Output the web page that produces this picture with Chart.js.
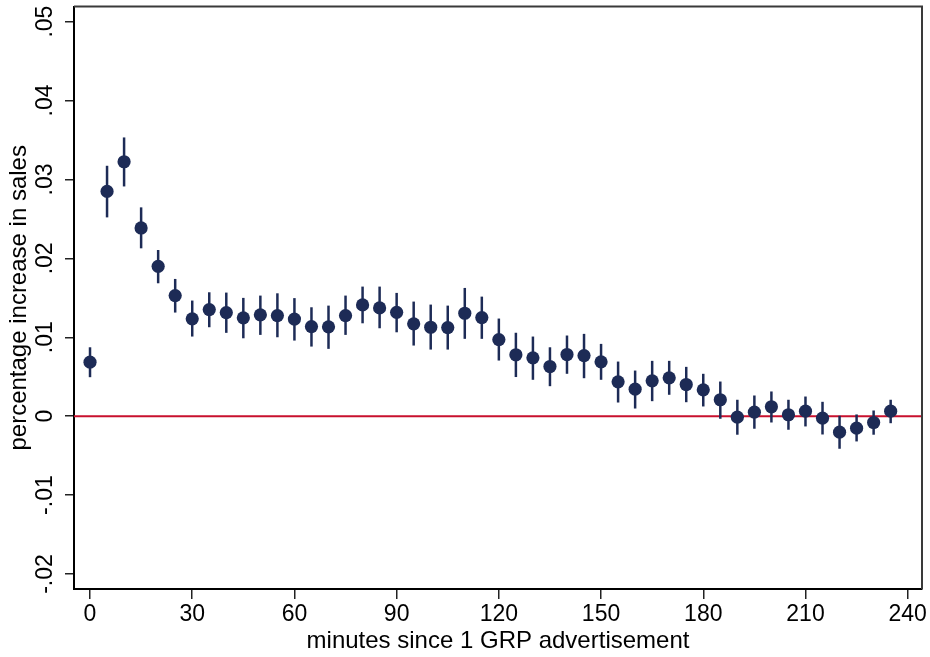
<!DOCTYPE html>
<html>
<head>
    <title>Sales response</title>
    <style>
        body { margin: 0; background: #fff; }
        #chart { width: 930px; height: 657px; }
    </style>
</head>
<body>
    <div id="chart">
        <canvas id="myChart" width="930" height="657"></canvas>
    </div>
<script src="https://cdn.jsdelivr.net/npm/chart.js@4/dist/chart.umd.min.js"></script>
<script>
    // minutes after the spot aired
    const minutes = [0, 5, 10, 15, 20, 25, 30, 35, 40, 45, 50, 55,
        60, 65, 70, 75, 80, 85, 90, 95, 100, 105, 110, 115,
        120, 125, 130, 135, 140, 145, 150, 155, 160, 165, 170, 175,
        180, 185, 190, 195, 200, 205, 210, 215, 220, 225, 230, 235]

    // point estimates
    const estimate = [0.00684, 0.02848, 0.03224, 0.02385, 0.01899, 0.01528, 0.01233, 0.01351, 0.01313, 0.01246, 0.01284, 0.01275,
        0.0123, 0.01135, 0.01132, 0.01275, 0.0141, 0.01372, 0.01316, 0.0117, 0.01127, 0.01123, 0.01304, 0.01249,
        0.00971, 0.00778, 0.00739, 0.00629, 0.00781, 0.00768, 0.00689, 0.00435, 0.00342, 0.00448, 0.00486, 0.00401,
        0.00334, 0.00208, -0.00013, 0.00051, 0.00119, 0.00018, 0.00063, -0.00025, -0.00203, -0.00152, -0.0008, 0.00063]

    // confidence interval, upper end
    const ciHigh = [0.00873, 0.03173, 0.03532, 0.02646, 0.02106, 0.01739, 0.01465, 0.0157, 0.01566, 0.01499, 0.01528, 0.01557,
        0.01496, 0.0138, 0.01401, 0.01528, 0.01642, 0.01642, 0.01562, 0.01452, 0.01414, 0.01401, 0.01625, 0.01515,
        0.01237, 0.01057, 0.01009, 0.00873, 0.01022, 0.01043, 0.00916, 0.00692, 0.00578, 0.00701, 0.00701, 0.00625,
        0.00537, 0.00439, 0.00208, 0.00262, 0.00313, 0.00208, 0.00249, 0.00182, 0.00005, 0.00022, 0.00072, 0.00208]

    // confidence interval, lower end
    const ciLow = [0.00494, 0.02519, 0.02911, 0.02127, 0.01684, 0.01313, 0.01009, 0.01127, 0.01056, 0.00987, 0.0103, 0.01,
        0.00958, 0.00882, 0.00853, 0.0103, 0.01177, 0.01114, 0.01063, 0.00895, 0.00844, 0.00844, 0.0098, 0.0098,
        0.00705, 0.00496, 0.00461, 0.0038, 0.00537, 0.00481, 0.00461, 0.00173, 0.00097, 0.0019, 0.00271, 0.00177,
        0.00123, -0.00033, -0.00235, -0.00159, -0.0008, -0.00172, -0.0013, -0.00232, -0.00413, -0.0032, -0.00235, -0.00089]

    const xTicks = [0, 30, 60, 90, 120, 150, 180, 210, 240]
    const yTicks = [-0.02, -0.01, 0, 0.01, 0.02, 0.03, 0.04, 0.05]
    const yTickLabels = ["-.02", "-.01", "0", ".01", ".02", ".03", ".04", ".05"]

    const navy = "#1d2b56";
    const red = "#c8102e";

    let points = []
    for (let i = 0; i < minutes.length; i++) {
        points.push({ x: minutes[i], y: estimate[i] })
    }

    // zero line and interval whiskers go under the markers
    const whiskers = {
        id: 'whiskers',
        beforeDatasetsDraw(chart) {
            const c = chart.ctx;
            const x = chart.scales.x;
            const y = chart.scales.y;
            const area = chart.chartArea;
            c.save();
            c.strokeStyle = red;
            c.lineWidth = 2;
            c.beginPath();
            c.moveTo(area.left, y.getPixelForValue(0));
            c.lineTo(area.right, y.getPixelForValue(0));
            c.stroke();

            c.strokeStyle = navy;
            c.lineWidth = 2.5;
            for (let i = 0; i < minutes.length; i++) {
                const px = x.getPixelForValue(minutes[i]);
                c.beginPath();
                c.moveTo(px, y.getPixelForValue(ciHigh[i]));
                c.lineTo(px, y.getPixelForValue(ciLow[i]));
                c.stroke();
            }
            c.restore();
        },
        afterDraw(chart) {
            // top and right edges of the plot box
            const c = chart.ctx;
            const area = chart.chartArea;
            c.save();
            c.strokeStyle = "#3a3a3a";
            c.lineWidth = 2;
            c.beginPath();
            c.moveTo(area.left, area.top);
            c.lineTo(area.right, area.top);
            c.lineTo(area.right, area.bottom);
            c.stroke();
            c.restore();
        }
    }

    Chart.defaults.font.family = "'Liberation Sans', Arial, sans-serif";
    Chart.defaults.color = "#000";

    const ctx = document.getElementById('myChart').getContext('2d');
    const myChart = new Chart(ctx, {
        type: 'scatter',
        data: {
            datasets: [{
                label: 'estimate',
                data: points,
                backgroundColor: navy,
                borderColor: navy,
                borderWidth: 0,
                pointRadius: 6.6,
                pointHoverRadius: 6.6
            }]
        },
        options: {
            responsive: false,
            animation: false,
            layout: { padding: { left: 0, top: 6, right: 8, bottom: 0 } },
            plugins: {
                legend: { display: false },
                tooltip: { enabled: false }
            },
            scales: {
                x: {
                    type: 'linear',
                    min: -4.7,
                    max: 244.2,
                    afterBuildTicks: s => { s.ticks = xTicks.map(v => ({ value: v })) },
                    afterFit: s => { s.height = 68; s.paddingLeft = 0; s.paddingRight = 0 },
                    grid: { drawOnChartArea: false, drawTicks: true, tickLength: 10, color: "#222", lineWidth: 1.5 },
                    border: { color: "#000", width: 2 },
                    ticks: { font: { size: 23 }, padding: 2, maxRotation: 0, autoSkip: false },
                    title: {
                        display: true,
                        text: 'minutes since 1 GRP advertisement',
                        font: { size: 24 },
                        padding: { top: 0, bottom: 1 }
                    }
                },
                y: {
                    min: -0.0219,
                    max: 0.0519,
                    afterBuildTicks: s => { s.ticks = yTicks.map(v => ({ value: v })) },
                    // rotated labels would otherwise push the plot top down
                    afterFit: s => { s.width = 74; s.paddingTop = 0; s.paddingBottom = 0 },
                    grid: { drawOnChartArea: false, drawTicks: true, tickLength: 9, color: "#222", lineWidth: 1.5 },
                    border: { color: "#000", width: 2 },
                    ticks: {
                        font: { size: 23 },
                        padding: 0,
                        minRotation: 90,
                        maxRotation: 90,
                        crossAlign: 'center',
                        autoSkip: false,
                        callback: (v, i) => yTickLabels[yTicks.indexOf(v)]
                    },
                    title: {
                        display: true,
                        text: 'percentage increase in sales',
                        font: { size: 24 },
                        padding: { top: 5, bottom: 0 }
                    }
                }
            }
        },
        plugins: [whiskers]
    })
</script>
</body>
</html>
